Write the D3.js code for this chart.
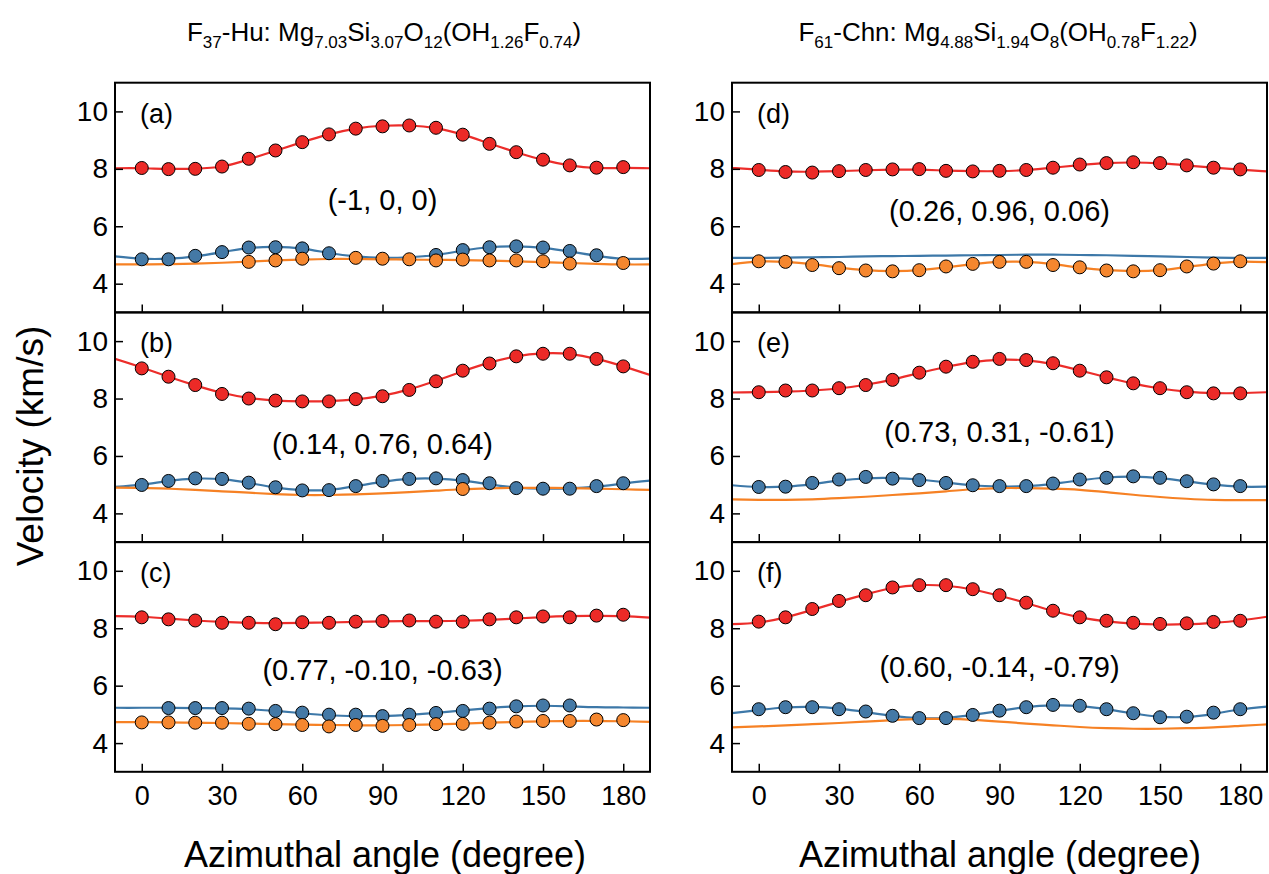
<!DOCTYPE html>
<html>
<head>
<meta charset="utf-8">
<script src="https://cdn.jsdelivr.net/npm/d3@7"></script>
<style>
  body { margin: 0; background: #fff; }
  text { font-family: "Liberation Sans", Arial, sans-serif; fill: #000; }
</style>
</head>
<body>
<script>
// angles of the measured points and of the fitted curves
var angles = [0, 10, 20, 30, 40, 50, 60, 70, 80, 90, 100, 110, 120, 130, 140, 150, 160, 170, 180];
var fitAngles = [-10, 0, 10, 20, 30, 40, 50, 60, 70, 80, 90, 100, 110, 120, 130, 140, 150, 160, 170, 180, 190];
var xTicks = [0, 30, 60, 90, 120, 150, 180];
var yTicks = [4, 6, 8, 10];

// (a) F37-Hu (-1, 0, 0)
var aRedPts = [8.03, 7.99, 8.0, 8.08, 8.35, 8.64, 8.93, 9.2, 9.4, 9.48, 9.51, 9.43, 9.19, 8.87, 8.58, 8.32, 8.12, 8.04, 8.06];
var aRedFit = [8.02, 8.02, 8.0, 8.01, 8.08, 8.33, 8.63, 8.93, 9.2, 9.4, 9.5, 9.51, 9.42, 9.19, 8.88, 8.58, 8.31, 8.12, 8.03, 8.03, 8.02];
var aBluePts = [4.85, 4.85, 4.97, 5.1, 5.26, 5.27, 5.23, 5.06, null, null, null, 5.0, 5.17, 5.27, 5.3, 5.26, 5.14, 4.99, null];
var aBlueFit = [4.95, 4.87, 4.87, 4.95, 5.1, 5.24, 5.28, 5.22, 5.07, 4.95, 4.9, 4.92, 5.0, 5.15, 5.27, 5.3, 5.25, 5.12, 4.97, 4.87, 4.87];
var aOrangePts = [null, null, null, null, 4.76, 4.81, 4.87, null, 4.9, 4.87, 4.85, 4.81, 4.84, 4.81, 4.81, 4.78, 4.7, null, 4.72];
var aOrangeFit = [4.67, 4.67, 4.68, 4.7, 4.73, 4.77, 4.81, 4.84, 4.86, 4.86, 4.85, 4.84, 4.83, 4.82, 4.8, 4.78, 4.75, 4.72, 4.69, 4.67, 4.67];

// (b) F37-Hu (0.14, 0.76, 0.64)
var bRedPts = [9.05, 8.76, 8.47, 8.16, 8.0, 7.93, 7.9, 7.9, 7.98, 8.08, 8.3, 8.6, 8.97, 9.22, 9.47, 9.56, 9.56, 9.38, 9.12];
var bRedFit = [9.38, 9.08, 8.76, 8.46, 8.2, 8.02, 7.93, 7.9, 7.91, 7.97, 8.1, 8.32, 8.62, 8.95, 9.25, 9.47, 9.57, 9.55, 9.38, 9.12, 8.82];
var bBluePts = [4.99, 5.13, 5.22, 5.2, 5.07, 4.91, 4.8, 4.81, 4.95, 5.13, 5.2, 5.22, 5.16, 5.05, 4.88, 4.86, 4.86, 4.95, 5.05];
var bBlueFit = [4.92, 5.0, 5.13, 5.21, 5.19, 5.06, 4.9, 4.81, 4.82, 4.95, 5.1, 5.2, 5.21, 5.14, 5.01, 4.9, 4.86, 4.87, 4.93, 5.04, 5.14];
var bOrangePts = [null, null, null, null, null, null, null, null, null, null, null, null, 4.85, null, null, null, null, null, null];
var bOrangeFit = [4.9, 4.89, 4.86, 4.82, 4.77, 4.72, 4.67, 4.64, 4.64, 4.66, 4.7, 4.74, 4.79, 4.84, 4.87, 4.89, 4.89, 4.88, 4.86, 4.84, 4.82];

// (c) F37-Hu (0.77, -0.10, -0.63)
var cRedPts = [8.38, 8.31, 8.27, 8.19, 8.19, 8.14, 8.21, 8.19, 8.23, 8.25, 8.27, 8.23, 8.23, 8.31, 8.38, 8.41, 8.38, 8.44, 8.47];
var cRedFit = [8.42, 8.4, 8.34, 8.27, 8.22, 8.19, 8.18, 8.19, 8.2, 8.22, 8.24, 8.25, 8.25, 8.26, 8.29, 8.34, 8.39, 8.42, 8.43, 8.42, 8.37];
var cBluePts = [null, 5.22, 5.22, 5.22, 5.2, 5.12, 5.06, 4.99, 4.99, 4.94, 4.99, 5.05, 5.12, 5.2, 5.28, 5.31, 5.31, null, null];
var cBlueFit = [5.23, 5.23, 5.23, 5.22, 5.21, 5.18, 5.12, 5.04, 4.97, 4.94, 4.94, 4.98, 5.05, 5.14, 5.22, 5.28, 5.3, 5.28, 5.25, 5.24, 5.23];
var cOrangePts = [4.72, 4.72, 4.71, 4.71, 4.67, 4.66, 4.63, 4.58, 4.63, 4.6, 4.63, 4.66, 4.67, 4.71, 4.75, 4.77, 4.77, 4.82, 4.8];
var cOrangeFit = [4.73, 4.73, 4.72, 4.71, 4.7, 4.68, 4.66, 4.64, 4.63, 4.62, 4.62, 4.63, 4.65, 4.68, 4.71, 4.74, 4.76, 4.77, 4.77, 4.76, 4.74];

// (d) F61-Chn (0.26, 0.96, 0.06)
var dRedPts = [7.96, 7.89, 7.87, 7.92, 7.96, 7.98, 7.99, 7.93, 7.91, 7.93, 7.96, 8.04, 8.15, 8.2, 8.23, 8.2, 8.12, 8.04, 7.98];
var dRedFit = [8.03, 7.97, 7.91, 7.9, 7.92, 7.95, 7.97, 7.97, 7.94, 7.92, 7.92, 7.96, 8.04, 8.13, 8.2, 8.22, 8.19, 8.12, 8.04, 7.97, 7.91];
var dBluePts = [];
var dBlueFit = [4.9, 4.9, 4.91, 4.92, 4.93, 4.95, 4.96, 4.97, 4.98, 4.99, 5.0, 5.01, 5.01, 5.0, 4.99, 4.97, 4.95, 4.93, 4.91, 4.9, 4.9];
var dOrangePts = [4.78, 4.76, 4.65, 4.54, 4.46, 4.43, 4.47, 4.6, 4.69, 4.76, 4.76, 4.65, 4.57, 4.46, 4.43, 4.47, 4.6, 4.7, 4.78];
var dOrangeFit = [4.68, 4.77, 4.76, 4.68, 4.56, 4.47, 4.44, 4.47, 4.57, 4.68, 4.76, 4.76, 4.68, 4.56, 4.47, 4.44, 4.47, 4.58, 4.7, 4.77, 4.75];

// (e) F61-Chn (0.73, 0.31, -0.61)
var eRedPts = [8.22, 8.28, 8.28, 8.36, 8.47, 8.65, 8.9, 9.11, 9.28, 9.38, 9.34, 9.23, 8.97, 8.74, 8.53, 8.36, 8.22, 8.18, 8.18];
var eRedFit = [8.21, 8.22, 8.24, 8.28, 8.35, 8.48, 8.66, 8.89, 9.1, 9.27, 9.35, 9.33, 9.2, 8.98, 8.74, 8.52, 8.35, 8.24, 8.19, 8.19, 8.22];
var eBluePts = [4.92, 4.93, 5.06, 5.18, 5.27, 5.21, 5.16, 5.06, 4.98, 4.95, 4.95, 5.04, 5.18, 5.24, 5.29, 5.24, 5.12, 5.01, 4.95];
var eBlueFit = [4.98, 4.92, 4.93, 5.02, 5.14, 5.22, 5.23, 5.18, 5.08, 4.98, 4.94, 4.95, 5.03, 5.15, 5.25, 5.28, 5.23, 5.12, 5.0, 4.93, 4.93];
var eOrangePts = [];
var eOrangeFit = [4.49, 4.47, 4.47, 4.49, 4.53, 4.58, 4.64, 4.7, 4.77, 4.84, 4.88, 4.88, 4.86, 4.82, 4.74, 4.65, 4.57, 4.51, 4.47, 4.46, 4.46];

// (f) F61-Chn (0.60, -0.14, -0.79)
var fRedPts = [8.23, 8.38, 8.67, 8.95, 9.15, 9.42, 9.5, 9.5, 9.36, 9.15, 8.89, 8.61, 8.38, 8.26, 8.19, 8.15, 8.17, 8.22, 8.26];
var fRedFit = [8.14, 8.2, 8.38, 8.64, 8.92, 9.18, 9.4, 9.5, 9.48, 9.35, 9.13, 8.88, 8.6, 8.38, 8.24, 8.16, 8.13, 8.14, 8.19, 8.27, 8.4];
var fBluePts = [5.18, 5.25, 5.25, 5.18, 5.1, 4.95, 4.87, 4.87, 4.98, 5.13, 5.25, 5.33, 5.3, 5.18, 5.04, 4.9, 4.92, 5.06, 5.18];
var fBlueFit = [5.04, 5.15, 5.24, 5.26, 5.2, 5.08, 4.95, 4.87, 4.88, 4.98, 5.12, 5.25, 5.31, 5.29, 5.18, 5.03, 4.92, 4.91, 5.02, 5.17, 5.27];
var fOrangePts = [];
var fOrangeFit = [4.55, 4.58, 4.62, 4.66, 4.7, 4.75, 4.8, 4.84, 4.84, 4.81, 4.75, 4.68, 4.62, 4.56, 4.52, 4.5, 4.5, 4.52, 4.55, 4.6, 4.65];

var labels = ["(a)", "(b)", "(c)", "(d)", "(e)", "(f)"];
var directions = ["(-1, 0, 0)", "(0.14, 0.76, 0.64)", "(0.77, -0.10, -0.63)",
                  "(0.26, 0.96, 0.06)", "(0.73, 0.31, -0.61)", "(0.60, -0.14, -0.79)"];

var colors = {
    red:    {line: "#ec2d2a", fill: "#ec2a27"},
    blue:   {line: "#3d78a8", fill: "#4479a6"},
    orange: {line: "#f68124", fill: "#f5872f"}
};

// panel table, built from the arrays above
var panels = [
    {red: [aRedPts, aRedFit], blue: [aBluePts, aBlueFit], orange: [aOrangePts, aOrangeFit]},
    {red: [bRedPts, bRedFit], blue: [bBluePts, bBlueFit], orange: [bOrangePts, bOrangeFit]},
    {red: [cRedPts, cRedFit], blue: [cBluePts, cBlueFit], orange: [cOrangePts, cOrangeFit]},
    {red: [dRedPts, dRedFit], blue: [dBluePts, dBlueFit], orange: [dOrangePts, dOrangeFit]},
    {red: [eRedPts, eRedFit], blue: [eBluePts, eBlueFit], orange: [eOrangePts, eOrangeFit]},
    {red: [fRedPts, fRedFit], blue: [fBluePts, fBlueFit], orange: [fOrangePts, fOrangeFit]}
];
var dirDy = [117, 132, 128, 128, 120, 125];   // vertical place of the direction text

var width = 1269, height = 874;
var colLeft = [115, 732];
var panelW = 535;
var panelTop = 82.7;
var panelH = 229.7;

var svg = d3.select("body").append("svg")
    .attr("width", width)
    .attr("height", height);

panels.forEach(function(p, i){
    var col = Math.floor(i / 3), row = i % 3;
    var x0 = colLeft[col], y0 = panelTop + row * panelH;

    var x = d3.scaleLinear().domain([-10, 190]).range([x0, x0 + panelW]);
    var y = d3.scaleLinear().domain([3, 11]).range([y0 + panelH, y0]);

    var g = svg.append("g");

    var clipId = "clip" + i;
    g.append("clipPath").attr("id", clipId)
        .append("rect").attr("x", x0).attr("y", y0).attr("width", panelW).attr("height", panelH);

    var line = d3.line()
        .x(function(d){ return x(d[0]); })
        .y(function(d){ return y(d[1]); })
        .curve(d3.curveNatural);

    ["red", "blue", "orange"].forEach(function(s){
        var fit = p[s][1].map(function(v, k){ return [fitAngles[k], v]; });
        g.append("path")
            .attr("d", line(fit))
            .attr("clip-path", "url(#" + clipId + ")")
            .attr("fill", "none")
            .attr("stroke", colors[s].line)
            .attr("stroke-width", 2.2);
    });

    ["red", "blue", "orange"].forEach(function(s){
        var pts = p[s][0].map(function(v, k){ return [angles[k], v]; })
            .filter(function(d){ return d[1] != null; });
        g.selectAll("circle." + s).data(pts).enter().append("circle")
            .attr("class", s)
            .attr("cx", function(d){ return x(d[0]); })
            .attr("cy", function(d){ return y(d[1]); })
            .attr("r", 6.5)
            .attr("fill", colors[s].fill)
            .attr("stroke", "#000")
            .attr("stroke-width", 1);
    });

    // axes with inward ticks
    var yAxis = d3.axisLeft(y).tickValues(yTicks).tickSize(-8).tickPadding(7).tickFormat(d3.format("d"));
    var gy = g.append("g").attr("transform", "translate(" + x0 + ",0)").call(yAxis);
    gy.select(".domain").remove();
    gy.selectAll("line").attr("stroke", "#000").attr("stroke-width", 1.5);
    gy.selectAll("text").style("font-size", "28px").attr("fill", "#000");

    var xAxis = d3.axisBottom(x).tickValues(xTicks).tickSize(-8).tickPadding(14);
    var gx = g.append("g").attr("transform", "translate(0," + (y0 + panelH) + ")").call(xAxis);
    gx.select(".domain").remove();
    gx.selectAll("line").attr("stroke", "#000").attr("stroke-width", 1.5);
    if (row == 2) {
        gx.selectAll("text").style("font-size", "27px").attr("fill", "#000");
    } else {
        gx.selectAll("text").remove();
    }

    g.append("rect")
        .attr("x", x0).attr("y", y0)
        .attr("width", panelW).attr("height", panelH)
        .attr("fill", "none").attr("stroke", "#000").attr("stroke-width", 2);

    g.append("text")
        .attr("x", x0 + 25).attr("y", y0 + 31)
        .attr("dominant-baseline", "central")
        .style("font-size", "27px")
        .text(labels[i]);

    g.append("text")
        .attr("x", x0 + panelW / 2).attr("y", y0 + dirDy[i])
        .attr("text-anchor", "middle")
        .attr("dominant-baseline", "central")
        .style("font-size", "29px")
        .text(directions[i]);
});

// column titles with subscripts
var titles = [
    [["F", ""], ["37", "s"], ["-Hu: Mg", ""], ["7.03", "s"], ["Si", ""], ["3.07", "s"], ["O", ""], ["12", "s"],
     ["(OH", ""], ["1.26", "s"], ["F", ""], ["0.74", "s"], [")", ""]],
    [["F", ""], ["61", "s"], ["-Chn: Mg", ""], ["4.88", "s"], ["Si", ""], ["1.94", "s"], ["O", ""], ["8", "s"],
     ["(OH", ""], ["0.78", "s"], ["F", ""], ["1.22", "s"], [")", ""]]
];
var titleX = [384, 998];
titles.forEach(function(parts, i){
    var t = svg.append("text")
        .attr("x", titleX[i]).attr("y", 41)
        .attr("text-anchor", "middle")
        .style("font-size", "26px");
    parts.forEach(function(pt){
        var ts = t.append("tspan").text(pt[0]);
        if (pt[1] == "s") {
            ts.style("font-size", "17px").attr("dy", 7);
        } else {
            ts.attr("dy", 0);
        }
    });
    // reset dy for segments after a subscript
    t.selectAll("tspan").each(function(d, k){
        if (k > 0 && parts[k][1] == "" && parts[k - 1][1] == "s") d3.select(this).attr("dy", -7);
    });
});

// axis titles
svg.append("text")
    .attr("transform", "translate(43,446) rotate(-90)")
    .attr("text-anchor", "middle")
    .style("font-size", "37px")
    .text("Velocity (km/s)");

[385, 1000].forEach(function(cx){
    svg.append("text")
        .attr("x", cx).attr("y", 867)
        .attr("text-anchor", "middle")
        .style("font-size", "36px")
        .text("Azimuthal angle (degree)");
});
</script>
</body>
</html>
